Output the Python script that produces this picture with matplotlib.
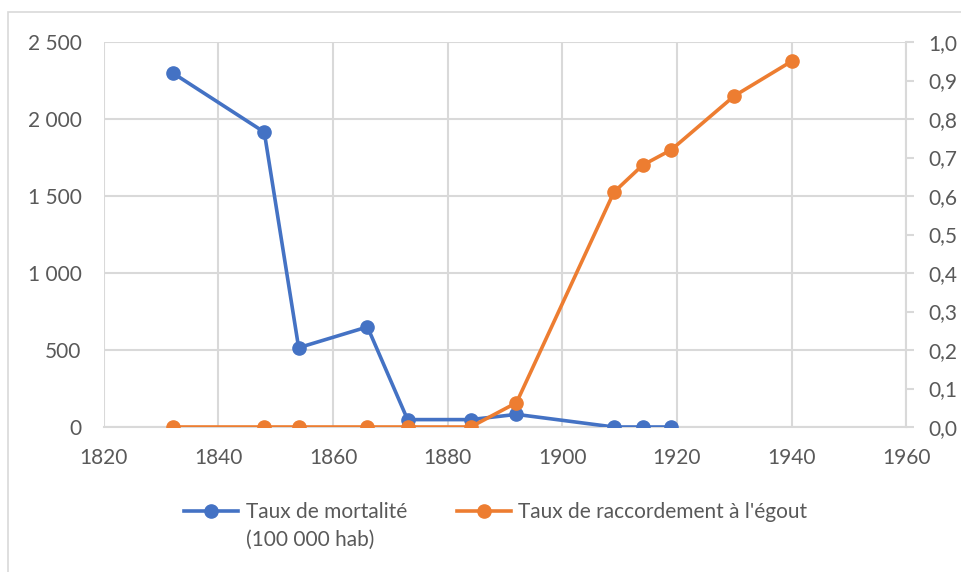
import matplotlib.pyplot as plt
from matplotlib.ticker import FuncFormatter, MultipleLocator
from matplotlib.patches import Rectangle

# données
annees_mort = [1832, 1848, 1854, 1866, 1873, 1884, 1892, 1909, 1914, 1919]
mortalite = [2300, 1915, 515, 650, 48, 48, 82, 0, 0, 0]

annees_egout = [1832, 1848, 1854, 1866, 1873, 1884, 1892, 1909, 1914, 1919, 1930, 1940]
raccordement = [0, 0, 0, 0, 0, 0, 0.063, 0.61, 0.68, 0.72, 0.86, 0.95]

label_mort = "Taux de mortalité"
label_mort_2 = "(100 000 hab)"
label_egout = "Taux de raccordement à l'égout"

bleu = '#4472C4'
orange = '#ED7D31'
gris_txt = '#595959'
gris_grille = '#d9d9d9'
taille = 15

plt.rcParams['font.family'] = ['Lato', 'DejaVu Sans']
plt.rcParams['font.size'] = taille

fig = plt.figure(figsize=(9.61, 5.72), dpi=100)
ax = fig.add_axes([0.108, 0.2535, 0.835, 0.673])
ax2 = ax.twinx()

# cadre gris autour du graphique
fig.patches.append(Rectangle((8 / 961, -0.1), 1.1, (560 + 57) / 572, transform=fig.transFigure,
                             fill=False, edgecolor=gris_grille, linewidth=1.2))

l1, = ax.plot(annees_mort, mortalite, color=bleu, lw=2.6, marker='o', ms=9.5, zorder=3)
l2, = ax2.plot(annees_egout, raccordement, color=orange, lw=2.6, marker='o', ms=9.5, zorder=3)

ax.set_xlim(1820, 1960)
ax.set_ylim(0, 2500)
ax2.set_ylim(0, 1.0)
ax.xaxis.set_major_locator(MultipleLocator(20))
ax.yaxis.set_major_locator(MultipleLocator(500))
ax2.yaxis.set_major_locator(MultipleLocator(0.1))

ax.yaxis.set_major_formatter(FuncFormatter(lambda v, p: f"{int(v):,}".replace(",", " ")))
ax2.yaxis.set_major_formatter(FuncFormatter(lambda v, p: f"{v:.1f}".replace(".", ",")))

ax.grid(True, color=gris_grille, lw=1.5)
ax.set_axisbelow(True)
for s in ['top', 'left', 'right']:
    ax.spines[s].set_visible(False)
    ax2.spines[s].set_visible(False)
ax2.spines['bottom'].set_visible(False)
ax.spines['bottom'].set_color(gris_grille)
ax.spines['bottom'].set_linewidth(1.5)
ax2.spines['right'].set_visible(True)
ax2.spines['right'].set_color(gris_grille)
ax2.spines['right'].set_linewidth(1.5)

ax.tick_params(axis='y', length=0, colors=gris_txt, labelsize=taille, pad=16)
ax.tick_params(axis='x', length=0, colors=gris_txt, labelsize=taille, pad=15)
ax2.tick_params(axis='y', length=6, width=1.5, color=gris_grille, labelcolor=gris_txt,
                labelsize=taille, direction='out', pad=10)

leg = fig.legend([l1, l2], [label_mort, label_egout], loc='center', ncol=2,
                 bbox_to_anchor=(0.516, 1 - 512 / 572), frameon=False, handlelength=2.6,
                 handletextpad=0.35, columnspacing=2.4, fontsize=taille, labelcolor=gris_txt)

# deuxième ligne de l'étiquette, sous la première comme dans Excel
fig.canvas.draw()
bb = leg.get_texts()[0].get_window_extent()
fig.text(bb.x0 / 961, (bb.y0 - 28) / 572 + 0.0, label_mort_2, color=gris_txt, fontsize=taille,
         ha='left', va='bottom')

fig.savefig('out.png', dpi=100)
